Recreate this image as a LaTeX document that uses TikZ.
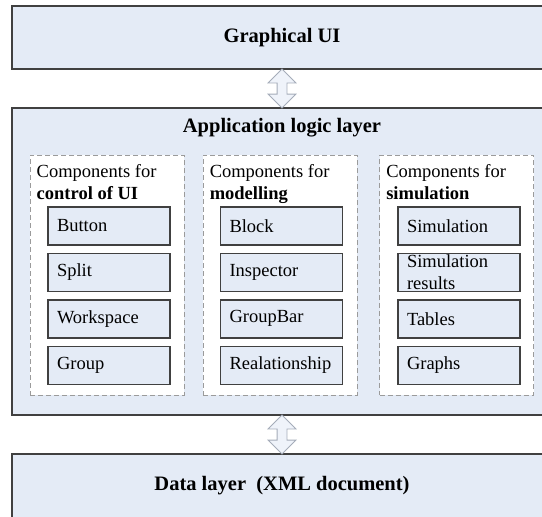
\documentclass[tikz,border=0pt]{standalone}
\usepackage{fontspec}
\setmainfont{Liberation Serif}
\usetikzlibrary{arrows, fit, positioning, calc, shapes.arrows}
\definecolor{layerblue}{RGB}{228,235,246}
\definecolor{frameline}{RGB}{64,64,64}
\definecolor{dashgray}{RGB}{155,155,155}
\definecolor{arrowline}{RGB}{165,172,185}

\begin{document}
\begin{tikzpicture}[x=1pt, y=-1pt,
	every node/.style={node distance=7pt and 7pt, font=\fontsize{18.5}{22}\selectfont},
	layer/.style={rectangle, draw=frameline, line width=1.8pt, fill=layerblue, minimum width=540pt},
	title/.style={font=\fontsize{20.5}{24}\selectfont\bfseries},
	panel/.style={rectangle, draw=dashgray, dash pattern=on 5pt off 3pt, line width=.9pt, fill=white, minimum width=154pt, minimum height=240pt},
	header/.style={anchor=north west, inner sep=0pt, align=left, xshift=7pt, yshift=-9.5pt},
	component/.style={rectangle, draw=frameline, line width=1.4pt, fill=layerblue, text width=104pt, inner xsep=9pt, inner ysep=0pt, minimum height=38pt, align=left},
	updown/.style={double arrow, rotate=90, draw=arrowline, fill=layerblue!60, line width=.8pt, minimum height=39pt, double arrow head extend=9pt, inner sep=4.5pt}
	]

\useasboundingbox (0,0) rectangle (542,517);
\clip (0,0) rectangle (542,517);

% Graphical UI
\node [layer, title, minimum height=63pt] (gui) at (282,37.5) {Graphical UI};

% Application logic layer
\node [layer, minimum height=307pt] (logic) at (282,261.5) {};
\node [title] (logic title) at (282,128) {Application logic layer};

% Component groups
\node [panel] (ui panel) at (107,275) {};
\node [panel] (model panel) at (280,275) {};
\node [panel] (sim panel) at (456.5,275) {};

\node [header] (ui header) at (ui panel.north west) {Components for\\\textbf{control of UI}};
\node [header] (model header) at (model panel.north west) {Components for\\\textbf{modelling}};
\node [header] (sim header) at (sim panel.north west) {Components for\\\textbf{simulation}};

% Control of UI
\node [component] (button) at (109,226) {Button};
\node [component, below=of button] (split) {Split};
\node [component, below=of split] (workspace) {Workspace};
\node [component, below=of workspace] (group) {Group};

% Modelling
\node [component] (block) at (281.5,226) {Block};
\node [component, below=of block] (inspector) {Inspector};
\node [component, below=of inspector] (groupbar) {GroupBar};
\node [component, below=of groupbar] (relationship) {Realationship};

% Simulation
\node [component] (simulation) at (459,226) {Simulation};
\node [component, below=of simulation] (results) {Simulation\\results};
\node [component, below=of results] (tables) {Tables};
\node [component, below=of tables] (graphs) {Graphs};

% Data layer
\node [layer, minimum height=126pt] (data) at (282,517) {};
\node [title] (data title) at (282,486) {Data layer\ \ (XML document)};

% Links between the layers
\node [updown] (gui link) at ($(gui.south)!.5!(logic.north)$) {};
\node [updown] (data link) at ($(logic.south)!.5!(data.north)$) {};

\end{tikzpicture}
\end{document}
